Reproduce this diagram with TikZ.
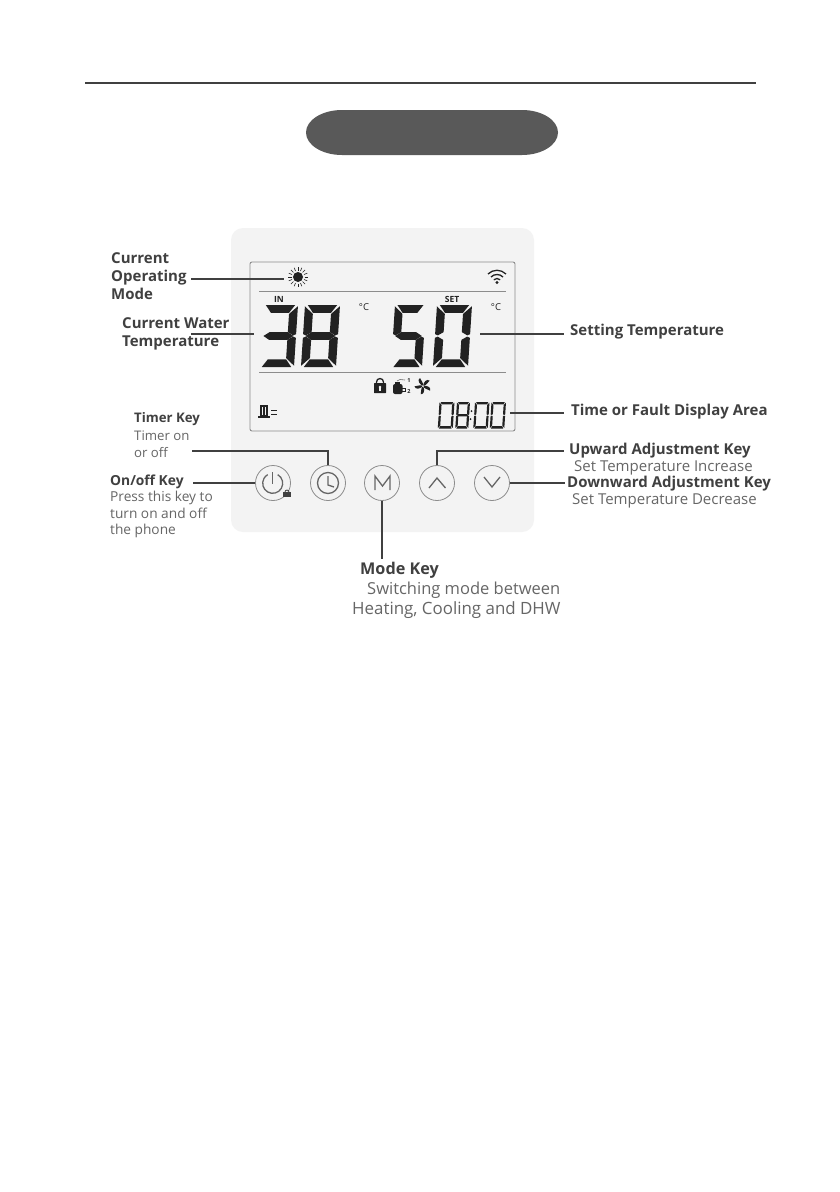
\documentclass[tikz,border=0pt]{standalone}
\usepackage{fontspec}
\setmainfont{Open Sans}
\definecolor{inkdark}{HTML}{222222}
\definecolor{inkgrey}{HTML}{404040}
\definecolor{softgrey}{HTML}{666666}
\definecolor{panelgrey}{HTML}{F3F3F3}
\definecolor{framegrey}{HTML}{8C8C8C}
\definecolor{pillgrey}{HTML}{595959}
\tikzset{
  leader/.style={draw=inkgrey, line width=2pt},
  keyring/.style={circle, draw=framegrey, line width=0.8pt, minimum size=35pt, inner sep=0pt},
  keyglyph/.style={draw=softgrey, line width=1.3pt},
  headtext/.style={font=\fontsize{15}{18}\selectfont\bfseries, text=inkgrey, anchor=west, align=left, inner sep=0pt},
  smalltext/.style={font=\fontsize{15}{18}\selectfont, text=softgrey, anchor=west, align=left, inner sep=0pt},
  lcdtext/.style={font=\fontsize{8.5}{8.5}\selectfont\bfseries, text=inkdark, inner sep=0pt}
}
% segments of one lcd digit, in a unit box
\newcommand\segA{\fill[inkdark] (.08,0)--(.92,0)--({1-\tx},\ty)--(\tx,\ty)--cycle;}
\newcommand\segB{\fill[inkdark] (1,.02)--(1,.47)--(.92,.49)--({1-\tx},{.5-.5*\ty})--({1-\tx},{\ty+.02})--cycle;}
\newcommand\segC{\fill[inkdark] (1,.98)--(1,.53)--(.92,.51)--({1-\tx},{.5+.5*\ty})--({1-\tx},{.98-\ty})--cycle;}
\newcommand\segD{\fill[inkdark] (.08,1)--(.92,1)--({1-\tx},{1-\ty})--(\tx,{1-\ty})--cycle;}
\newcommand\segE{\fill[inkdark] (0,.98)--(0,.53)--(.08,.51)--(\tx,{.5+.5*\ty})--(\tx,{.98-\ty})--cycle;}
\newcommand\segF{\fill[inkdark] (0,.02)--(0,.47)--(.08,.49)--(\tx,{.5-.5*\ty})--(\tx,{\ty+.02})--cycle;}
\newcommand\segG{\fill[inkdark] (.07,.5)--(\tx,{.5-.5*\ty})--({1-\tx},{.5-.5*\ty})--(.93,.5)--({1-\tx},{.5+.5*\ty})--(\tx,{.5+.5*\ty})--cycle;}
\newcommand\lcddigit[7]{%
  \begin{scope}[shift={(#1,#2)}, xslant=0.065, x=#3pt, y=-#4pt]
    \def\tx{#6}\def\ty{#7}
    \foreach \s in {#5} {\csname seg\s\endcsname}
  \end{scope}}
\begin{document}
\begin{tikzpicture}[x=1pt, y=-1pt]
  \useasboundingbox[fill=white] (0,0) rectangle (840,1192);

  % header
  \draw[line width=2pt, inkgrey] (85,83) -- (756,83);
  \fill[pillgrey] (342,110) -- (522,110) arc (-90:90:36 and 22.5) -- (342,155) arc (90:270:36 and 22.5) -- cycle;

  % panel and screen
  \fill[panelgrey, rounded corners=12pt] (231,228) rectangle (534,532);
  \draw[framegrey, line width=0.9pt, rounded corners=2pt] (250,262) rectangle (515,431);
  \draw[framegrey, line width=0.7pt] (259,291) -- (506,291);
  \draw[framegrey, line width=0.7pt] (259,372) -- (506,372);

  % large digits
  \lcddigit{263}{305}{35}{62}{A,B,C,D,G}{.24}{.125}
  \lcddigit{305}{305}{35}{62}{A,B,C,D,E,F,G}{.24}{.125}
  \lcddigit{395}{305}{31}{62}{A,C,D,F,G}{.26}{.125}
  \lcddigit{437}{305}{35}{62}{A,B,C,D,E,F}{.24}{.125}
  % clock digits
  \lcddigit{439.5}{402}{15}{26.5}{A,B,C,D,E,F}{.15}{.09}
  \lcddigit{457}{402}{13}{26.5}{A,B,C,D,E,F,G}{.17}{.09}
  \lcddigit{475}{402}{14.5}{26.5}{A,B,C,D,E,F}{.15}{.09}
  \lcddigit{491.5}{402}{14.5}{26.5}{A,B,C,D,E,F}{.15}{.09}
  \fill[inkdark] (471.5,411) circle (1);
  \fill[inkdark] (470.5,419) circle (1);

  \node[lcdtext] (inmark) at (279,299.5) {IN};
  \node[lcdtext] (setmark) at (452,299.5) {SET};
  \node[lcdtext, font=\fontsize{9.5}{9.5}\selectfont] (degin) at (364,307) {°C};
  \node[lcdtext, font=\fontsize{9.5}{9.5}\selectfont] (degset) at (496,307) {°C};

  % sun
  \fill[inkdark] (298,277) circle (5);
  \foreach \a in {0,22.5,...,337.5} {
    \draw[inkdark, line width=0.6pt] (298,277) ++(\a:6.5) -- ++(\a:3.5);
  }
  \coordinate (sunend) at (284,278.5);
  % wifi
  \fill[inkdark] (497,282.5) circle (1.6);
  \draw[inkdark, line width=1.3pt] (493.8,279.8) arc (-135:-45:4.5);
  \draw[inkdark, line width=1.3pt] (491,277) arc (-135:-45:8.5);
  \draw[inkdark, line width=1.3pt] (488,274) arc (-135:-45:12.7);
  % lock
  \fill[inkdark, rounded corners=0.5pt] (374,383) rectangle (386,393);
  \draw[inkdark, line width=1.3pt] (376.5,383) -- (376.5,382) arc (180:360:3.5) -- (383.5,383);
  \fill[panelgrey] (380,387) circle (1.3);
  \fill[panelgrey] (379.4,387) rectangle (380.6,390.5);
  % tank
  \fill[inkdark, rounded corners=2pt] (393,384) rectangle (402.5,394);
  \fill[inkdark] (395,382) rectangle (400,385);
  \draw[inkdark, line width=0.8pt] (402,388) -- (405,388) -- (405,391) -- (402,391);
  \draw[softgrey, line width=0.6pt] (397,381) -- (400,379.5) -- (405,380);
  \node[lcdtext, font=\fontsize{5.5}{5.5}\selectfont\bfseries] (tankone) at (409,381) {1};
  \node[lcdtext, font=\fontsize{5.5}{5.5}\selectfont\bfseries] (tanktwo) at (409,392) {2};
  % fan
  \foreach \a in {0,72,...,288} {
    \fill[inkdark, rotate around={\a:(423,386)}] (423,386) .. controls (419,384) and (417,380) .. (420,378) .. controls (421,381) and (424,383) .. (423,386);
  }
  \fill[panelgrey] (423,386) circle (1);
  % tower
  \fill[inkdark] (260,405) rectangle (268,416);
  \fill[inkdark] (258,416) rectangle (270,418);
  \fill[panelgrey] (262,407) rectangle (262.8,415);
  \fill[panelgrey] (265,407) rectangle (265.8,415);
  \draw[inkdark, line width=0.9pt] (271,410) -- (277,410);
  \draw[inkdark, line width=0.9pt] (271,414) -- (277,414);

  % keys
  \node[keyring] (onoffkey) at (273,483) {};
  \node[keyring] (timerkey) at (328,483) {};
  \node[keyring] (modekey) at (382,483) {};
  \node[keyring] (upkey) at (437,483) {};
  \node[keyring] (downkey) at (492,483) {};

  \draw[keyglyph] (272.7,483.3) ++(-60:10) arc (-60:240:10);
  \draw[keyglyph] (272.7,472) -- (272.7,484);
  \fill[inkgrey] (283,492) rectangle (291,497);
  \draw[inkgrey, line width=0.8pt] (285,492) arc (180:360:2);
  \draw[keyglyph] (timerkey) circle (10.5);
  \draw[keyglyph] (328,476) -- (328,485) -- (334,487);
  \draw[keyglyph] (375,490) -- (375,476) -- (382.5,486) -- (390,476) -- (390,490);
  \draw[keyglyph] (429,488) -- (437,478) -- (445.5,488);
  \draw[keyglyph] (484,477) -- (492,487) -- (500,477);

  % labels
  \node[headtext] (modelabel) at (111,276) {Current\\Operating\\Mode};
  \node[headtext] (waterlabel) at (122,334) {Current Water\\Temperature};
  \node[headtext] (setlabel) at (570,332) {Setting Temperature};
  \node[headtext] (timelabel) at (571,412) {Time or Fault Display Area};
  \node[headtext] (uplabel) at (569,451) {Upward Adjustment Key};
  \node[smalltext] (uptext) at (574,468) {Set Temperature Increase};
  \node[headtext] (downlabel) at (567,484) {Downward Adjustment Key};
  \node[smalltext] (downtext) at (572,501) {Set Temperature Decrease};
  \node[headtext, font=\fontsize{13.2}{16}\selectfont\bfseries] (timerlabel) at (134,419) {Timer Key};
  \node[smalltext, font=\fontsize{13.2}{17}\selectfont] (timertext) at (134,444.5) {Timer on\\or off};
  \node[headtext, font=\fontsize{13.8}{16}\selectfont\bfseries] (onofflabel) at (110,482) {On/off Key};
  \node[smalltext, font=\fontsize{13.7}{16.5}\selectfont] (onofftext) at (110,514.5) {Press this key to\\turn on and off\\the phone};
  \node[headtext, font=\fontsize{16.2}{20}\selectfont\bfseries] (modekeylabel) at (360,570) {Mode Key};
  \node[smalltext, font=\fontsize{16.5}{20}\selectfont] (modetextone) at (361,590) {\hspace{6pt}Switching mode between};
  \node[smalltext, font=\fontsize{16.9}{20}\selectfont] (modetexttwo) at (352,610) {Heating, Cooling and DHW};

  % leaders
  \coordinate (modestart) at (191,278.5);
  \coordinate (waterstart) at (191,334);
  \coordinate (waterend) at (254,334);
  \coordinate (setstart) at (480,334);
  \coordinate (setend) at (564,334);
  \coordinate (timestart) at (510,412.7);
  \coordinate (timeend) at (564,412.7);
  \coordinate (timerstart) at (192,451);
  \coordinate (upend) at (564,451);
  \coordinate (onoffstart) at (193,483);
  \coordinate (downend) at (565,483);
  \coordinate (modeend) at (382,559);
  \draw[leader] (modestart) -- (sunend);
  \draw[leader] (waterstart) -- (waterend);
  \draw[leader] (setstart) -- (setend);
  \draw[leader] (timestart) -- (timeend);
  \draw[leader] (timerstart) -| (timerkey.north);
  \draw[leader] (upkey.north) |- (upend);
  \draw[leader] (onoffstart) -- (onoffkey.west);
  \draw[leader] (downkey.east) -- (downend);
  \draw[leader] (modekey.south) -- (modeend);
\end{tikzpicture}
\end{document}
